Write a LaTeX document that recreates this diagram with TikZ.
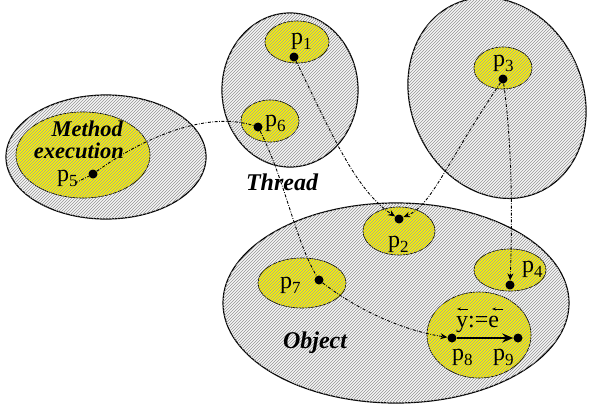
\documentclass[tikz,border=0pt]{standalone}
\usepackage{fontspec}
\setmainfont{Liberation Serif}
\usetikzlibrary{patterns,arrows.meta}
\newcommand\plab[1]{{\fontsize{24}{24}\selectfont p}\raisebox{-5pt}{\fontsize{17}{17}\selectfont #1}}
\begin{document}
\begin{tikzpicture}[x=1pt,y=-1pt,
  outer/.style={draw=black, line width=1.2pt, fill=gray!8,
    postaction={pattern color=black!42, pattern=north east lines}},
  inner/.style={draw=black, line width=0.6pt, fill={rgb,255:red,250;green,242;blue,0},
    postaction={pattern color=black!38, pattern=north east lines}},
  dot/.style={circle, fill=black, inner sep=0pt, minimum size=9pt},
  conn/.style={line width=0.9pt, dash pattern=on 3pt off 1.5pt on 0.8pt off 1.5pt},
  arr/.style={-{Stealth[length=7pt,width=6pt]}},
  vecarr/.style={line width=0.6pt, -{Stealth[length=4pt,width=3pt]}},
  plabel/.style={anchor=base west, inner sep=0pt},
  title/.style={font=\fontsize{24}{24}\selectfont\bfseries\itshape, inner sep=0pt},
  mtitle/.style={font=\fontsize{22.5}{22.5}\selectfont\bfseries\itshape, inner sep=0pt}
]
\useasboundingbox (0,0) rectangle (589,405);
% outer regions
\path[outer] (106,157) ellipse [x radius=100, y radius=62];
\path[outer] (290,90) ellipse [x radius=68, y radius=77];
\path[outer, rotate around={24:(497,98)}] (497,98) ellipse [x radius=86, y radius=103];
\path[outer] (396,303) ellipse [x radius=173, y radius=100];
% inner regions
\path[inner] (83,155) ellipse [x radius=67, y radius=43];
\path[inner] (297,42) ellipse [x radius=32, y radius=21];
\path[inner] (270,121) ellipse [x radius=29, y radius=21];
\path[inner] (503,68) ellipse [x radius=29, y radius=21];
\path[inner] (399,231) ellipse [x radius=36, y radius=24];
\path[inner] (510,270) ellipse [x radius=36, y radius=21];
\path[inner] (302,283) ellipse [x radius=44, y radius=25];
\path[inner] (479,335) ellipse [x radius=52, y radius=43];
% dots
\node[dot] (d1) at (294,57) {};
\node[dot] (d2) at (399,219) {};
\node[dot] (d3) at (503,79) {};
\node[dot] (d4) at (510,285) {};
\node[dot] (d5) at (93,174) {};
\node[dot] (d6) at (258,127) {};
\node[dot] (d7) at (319,280) {};
\node[dot] (d8) at (452,338) {};
\node[dot] (d9) at (518,338) {};
\coordinate (s5) at (75,183);
% connectors
\draw[conn] (s5) -- (d5) .. controls (140,140) and (205,110) .. (d6);
\draw[conn] (d6) .. controls (285,180) and (295,240) .. (d7);
\draw[conn, arr] (d7) .. controls (355,308) and (400,330) .. (d8);
\draw[conn, arr] (d1) .. controls (330,130) and (355,190) .. (d2);
\draw[conn, arr] (d3) .. controls (445,165) and (432,205) .. (d2);
\draw[conn, arr] (d3) .. controls (513,150) and (512,230) .. (d4);
\draw[line width=1.6pt, -{Stealth[length=11pt,width=9pt]}] (d8) -- (d9);
% labels
\node[plabel] (l1) at (291,44) {\plab{1}};
\node[plabel] (l6) at (265,126) {\plab{6}};
\node[plabel] (l3) at (493,66) {\plab{3}};
\node[plabel] (l2) at (388,247) {\plab{2}};
\node[plabel] (l4) at (522,272) {\plab{4}};
\node[plabel] (l7) at (280,288) {\plab{7}};
\node[plabel] (l8) at (452,360) {\plab{8}};
\node[plabel] (l9) at (493,360) {\plab{9}};
\node[plabel] (l5) at (57,181) {\plab{5}};
\node[plabel] (ye) at (456,327) {\fontsize{24}{24}\selectfont y:=e};
\coordinate (ya) at (468,309); \coordinate (yb) at (457,309);
\coordinate (ea) at (503,309); \coordinate (eb) at (492,309);
\draw[vecarr] (ya) -- (yb);
\draw[vecarr] (ea) -- (eb);
\node[mtitle, anchor=base east] (m1) at (123,136) {Method};
\node[mtitle, anchor=base east] (m2) at (124,158) {execution};
\node[title, anchor=base] (th) at (282,190) {Thread};
\node[title, anchor=base] (ob) at (315,348) {Object};
\end{tikzpicture}
\end{document}
